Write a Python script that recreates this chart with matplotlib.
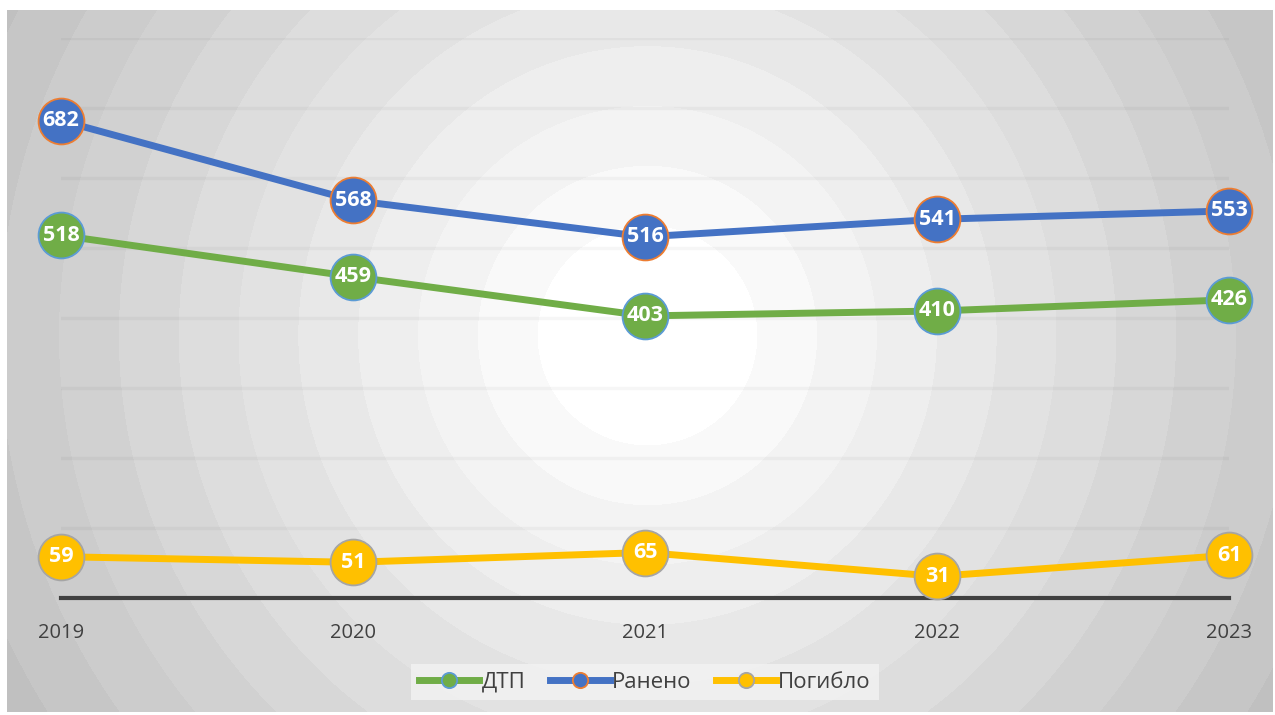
import numpy as np
import matplotlib.pyplot as plt
from matplotlib.lines import Line2D

plt.rcParams['font.family'] = ['Open Sans', 'DejaVu Sans']

years = [2019, 2020, 2021, 2022, 2023]
dtp = [518, 459, 403, 410, 426]
raneno = [682, 568, 516, 541, 553]
pogiblo = [59, 51, 65, 31, 61]
series_names = ['ДТП', 'Ранено', 'Погибло']

W, H = 1275, 715
fig = plt.figure(figsize=(W / 100, H / 100), dpi=100)

# radial banded background like the office gradient fill
bg = fig.add_axes([7 / W, 3 / H, 1266 / W, 702 / H])
yy, xx = np.mgrid[0:702, 0:1266]
r = np.hypot(xx - 640, yy - 325)
v = 1.0 - 0.26 * np.clip((r - 50) / 700, 0, 1)
v = np.ceil(v * 45) / 45
v = np.clip(v, 0, 1)
bg.imshow(np.dstack([v, v, v]), aspect='auto', interpolation='nearest')
bg.axis('off')

ax = fig.add_axes([61 / W, 117 / H, 1168 / W, 560 / H])
ax.patch.set_alpha(0)
ax.set_xlim(years[0], years[-1])
ax.set_ylim(0, 800)

for yv in range(100, 801, 100):
    ax.axhline(yv, color='#000000', alpha=0.035, lw=2.5, zorder=1)

for s in ['top', 'right', 'left']:
    ax.spines[s].set_visible(False)
ax.spines['bottom'].set_color('#404040')
ax.spines['bottom'].set_linewidth(3)
ax.set_yticks([])
ax.set_xticks(years)
ax.tick_params(axis='x', length=0, pad=18, labelsize=14.5, labelcolor='#404040')

styles = [
    (dtp, '#70AD47', '#5B9BD5'),
    (raneno, '#4472C4', '#ED7D31'),
    (pogiblo, '#FFC000', '#A5A5A5'),
]
handles = []
for (vals, col, edge), name in zip(styles, series_names):
    ax.plot(years, vals, color=col, lw=5, marker='o', ms=33, mfc=col,
            mec=edge, mew=1.3, clip_on=False, zorder=3)
    for x, yv in zip(years, vals):
        ax.text(x, yv, str(yv), ha='center', va='center', color='white',
                fontsize=15.5, fontweight='bold', zorder=4)
    handles.append(Line2D([0], [0], color=col, lw=5, marker='o', ms=11,
                          mfc=col, mec=edge, mew=1.3, label=name))

leg = fig.legend(handles=handles, loc='center', bbox_to_anchor=(645 / W, 1 - 682 / H),
                 ncol=3, frameon=True, fontsize=16, handlelength=2.7,
                 columnspacing=1.1, handletextpad=0.1, borderpad=0.35)
leg.get_frame().set_facecolor('#f4f4f4')
leg.get_frame().set_alpha(0.75)
leg.get_frame().set_edgecolor('none')
leg.get_frame().set_boxstyle('square', pad=0)
for t in leg.get_texts():
    t.set_color('#404040')

fig.savefig('out.png', dpi=100)
